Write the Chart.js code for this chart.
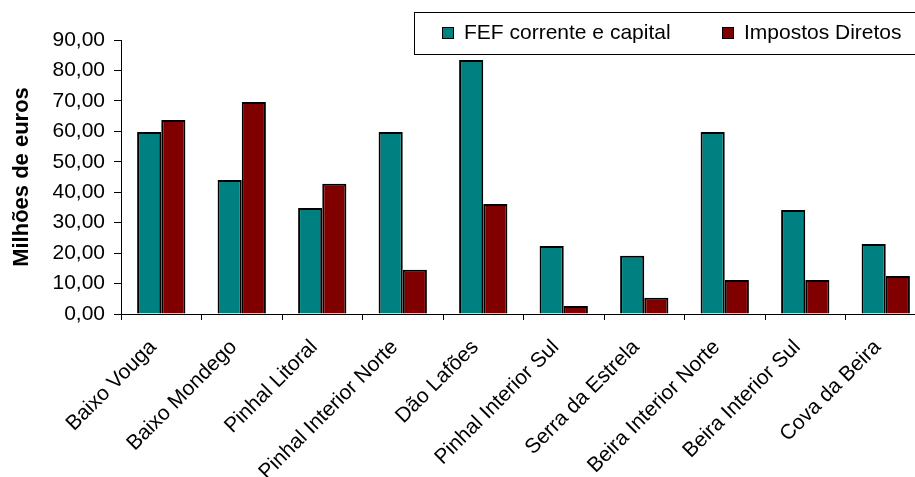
<!DOCTYPE html>
<html>
<head>
<meta charset="utf-8">
<script src="https://cdn.jsdelivr.net/npm/chart.js@4/dist/chart.umd.min.js"></script>
<style>
html,body{margin:0;padding:0;background:#fff;overflow:hidden;width:915px;height:477px;}
#wrap{position:absolute;left:0;top:0;width:935px;height:477px;}
</style>
</head>
<body>
<div id="wrap"><canvas id="c" width="935" height="477" style="width:935px;height:477px"></canvas></div>
<script>
const categories = ["Baixo Vouga","Baixo Mondego","Pinhal Litoral","Pinhal Interior Norte","Dão Lafões","Pinhal Interior Sul","Serra da Estrela","Beira Interior Norte","Beira Interior Sul","Cova da Beira"];
const fefValues = [59.8, 44.0, 34.8, 59.8, 83.4, 22.3, 19.1, 59.8, 34.2, 23.0];
const impostosValues = [63.7, 69.6, 42.8, 14.5, 36.1, 2.6, 5.3, 11.2, 11.2, 12.5];
const seriesNames = ["FEF corrente e capital", "Impostos Diretos"];
const yTickValues = [0,10,20,30,40,50,60,70,80,90];
const yTitle = "Milhões de euros";

const FONT = "Arial, 'Liberation Sans', sans-serif";

const boxLegend = {
  id: 'boxLegend',
  afterDraw(chart) {
    const ctx = chart.ctx;
    ctx.save();
    ctx.fillStyle = '#fff';
    ctx.strokeStyle = '#000';
    ctx.lineWidth = 1;
    ctx.fillRect(414, 12, 520, 42);
    ctx.strokeRect(414.5, 12.5, 520, 42);
    const xs = [442, 722];
    ctx.font = "21px " + FONT;
    ctx.textBaseline = 'middle';
    ctx.textAlign = 'left';
    chart.data.datasets.forEach((ds, i) => {
      ctx.fillStyle = ds.backgroundColor;
      ctx.fillRect(xs[i], 27, 11, 11);
      ctx.strokeStyle = '#000';
      ctx.strokeRect(xs[i] + 0.5, 27.5, 11, 11);
      ctx.fillStyle = '#000';
      ctx.fillText(ds.label, xs[i] + 22, 33);
    });
    ctx.restore();
  }
};

new Chart(document.getElementById('c'), {
  type: 'bar',
  data: {
    labels: categories,
    datasets: [
      { label: seriesNames[0], data: fefValues, backgroundColor: '#008080', borderColor: '#000', borderWidth: 2, categoryPercentage: 0.6, barPercentage: 1.0 },
      { label: seriesNames[1], data: impostosValues, backgroundColor: '#800000', borderColor: '#000', borderWidth: 2, categoryPercentage: 0.6, barPercentage: 1.0 }
    ]
  },
  options: {
    responsive: false,
    animation: false,
    layout: { padding: { top: 40, right: 9, left: 0, bottom: 0 } },
    plugins: { legend: { display: false }, tooltip: { enabled: false } },
    scales: {
      x: {
        grid: { display: true, drawOnChartArea: false, drawTicks: true, tickLength: 6, color: '#000', offset: true },
        border: { color: '#000', width: 1 },
        ticks: { color: '#000', font: { family: FONT, size: 21 }, minRotation: 45, maxRotation: 45, autoSkip: false, padding: 15, labelOffset: -8 },
        afterFit(s) { s.height = 163; }
      },
      y: {
        min: 0, max: 90,
        afterBuildTicks(s) { s.ticks = yTickValues.map(v => ({ value: v })); },
        grid: { display: true, drawOnChartArea: false, drawTicks: true, tickLength: 7, color: '#000' },
        border: { color: '#000', width: 1 },
        ticks: { color: '#000', font: { family: FONT, size: 21 }, padding: 9,
          callback: v => Number(v).toFixed(2).replace('.', ',') },
        title: { display: true, text: yTitle, color: '#000', font: { family: FONT, size: 22, weight: 'bold' }, padding: { top: 9, bottom: 0 } },
        afterFit(s) { s.width = 121; }
      }
    }
  },
  plugins: [boxLegend]
});
</script>
</body>
</html>
